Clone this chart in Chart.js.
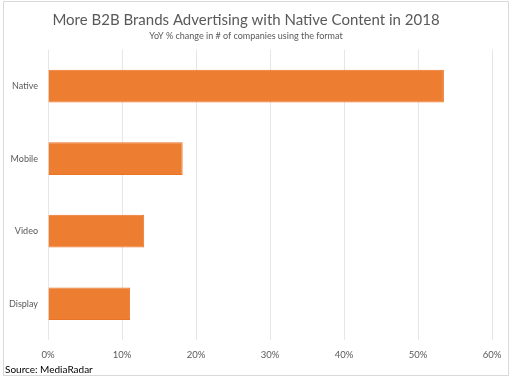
<!DOCTYPE html>
<html>
<head>
<meta charset="utf-8">
<script src="https://cdn.jsdelivr.net/npm/chart.js@4"></script>
<style>
  html, body { margin: 0; padding: 0; background: #fff; }
  #wrap { width: 512px; height: 378px; position: relative; }
</style>
</head>
<body>
<div id="wrap"><canvas id="c" width="512" height="378"></canvas></div>
<script>
const categories = ["Native", "Mobile", "Video", "Display"];
const values = [53.5, 18.2, 13.0, 11.1];
const tickValues = [0, 10, 20, 30, 40, 50, 60];
const titleText = "More B2B Brands Advertising with Native Content in 2018";
const subtitleText = "YoY % change in # of companies using the format";
const sourceText = "Source: MediaRadar";

const FONT = "Lato, 'Open Sans', sans-serif";

const extras = {
  id: 'extras',
  afterDraw(chart) {
    const ctx = chart.ctx;
    ctx.save();
    ctx.strokeStyle = '#d9d9d9';
    ctx.lineWidth = 1;
    ctx.strokeRect(3.5, 1.5, 505, 374);
    ctx.fillStyle = '#000';
    ctx.font = "10px " + FONT;
    ctx.textBaseline = 'middle';
    ctx.textAlign = 'left';
    ctx.fillText(sourceText, 5, 370);
    ctx.restore();
  }
};

new Chart(document.getElementById('c'), {
  type: 'bar',
  data: {
    labels: categories,
    datasets: [{
      data: values,
      backgroundColor: '#ED7D31',
      borderColor: '#E97426',
      borderWidth: 1,
      barPercentage: 0.9,
      categoryPercentage: 0.5
    }]
  },
  options: {
    indexAxis: 'y',
    responsive: false,
    animation: false,
    devicePixelRatio: 1,
    layout: { padding: { left: 0, right: 20, top: 0, bottom: 0 } },
    plugins: {
      legend: { display: false },
      tooltip: { enabled: false },
      title: {
        display: true,
        text: titleText,
        color: '#595959',
        font: { family: FONT, size: 15, weight: 'normal' },
        padding: { top: 11, bottom: 2 }
      },
      subtitle: {
        display: true,
        text: subtitleText,
        color: '#595959',
        font: { family: FONT, size: 9, weight: 'normal' },
        padding: { top: 0, bottom: 8 }
      }
    },
    scales: {
      x: {
        min: 0,
        max: 60,
        afterBuildTicks(scale) { scale.ticks = tickValues.map(v => ({ value: v })); },
        afterFit(scale) { scale.height = 38; },
        grid: { color: '#e6e6e6', drawTicks: false },
        border: { display: false },
        ticks: {
          color: '#595959',
          font: { family: FONT, size: 9.5 },
          padding: 9,
          callback: v => v + '%'
        }
      },
      y: {
        afterFit(scale) { scale.width = 48; },
        grid: { display: false, drawTicks: false },
        border: { display: false },
        ticks: {
          color: '#595959',
          font: { family: FONT, size: 9 },
          padding: 10
        }
      }
    }
  },
  plugins: [extras]
});
</script>
</body>
</html>
